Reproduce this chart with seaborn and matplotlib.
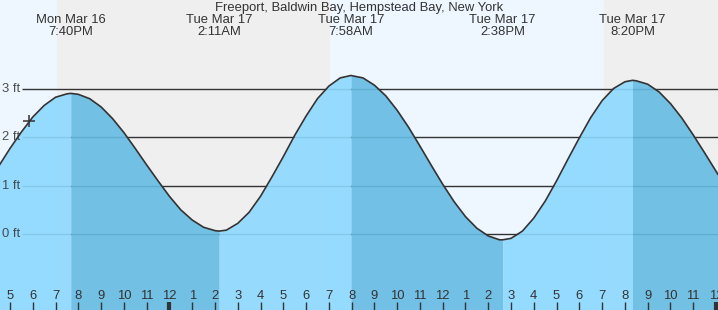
import matplotlib
matplotlib.use("Agg")
import matplotlib.pyplot as plt
import seaborn as sns
import pandas as pd

# ---------------- data ----------------
title = "Freeport, Baldwin Bay, Hempstead Bay, New York"

# hours since Mon Mar 16 00:00
ext_time = [19.667, 26.183, 31.967, 38.633, 44.333]
ext_height = [2.91, 0.06, 3.28, -0.12, 3.18]
ext_day = ["Mon Mar 16", "Tue Mar 17", "Tue Mar 17", "Tue Mar 17", "Tue Mar 17"]
ext_clock = ["7:40PM", "2:11AM", "7:58AM", "2:38PM", "8:20PM"]

# tide heights (ft)
tide_time = [16.0, 16.5, 17.0, 17.5, 18.0, 18.5, 19.0, 19.5, 19.667,
             20.0, 20.5, 21.0, 21.5, 22.0, 22.5, 23.0, 23.5, 24.0, 24.5,
             25.0, 25.5, 26.0, 26.183,
             26.5, 27.0, 27.5, 28.0, 28.5, 29.0, 29.5, 30.0, 30.5, 31.0,
             31.5, 31.967,
             32.5, 33.0, 33.5, 34.0, 34.5, 35.0, 35.5, 36.0, 36.5, 37.0,
             37.5, 38.0, 38.5, 38.633,
             39.0, 39.5, 40.0, 40.5, 41.0, 41.5, 42.0, 42.5, 43.0, 43.5,
             44.0, 44.333,
             44.5, 45.0, 45.5, 46.0, 46.5, 47.0, 47.5, 48.0, 48.5]
tide_height = [1.03, 1.40, 1.77, 2.11, 2.42, 2.66, 2.83, 2.90, 2.91,
               2.89, 2.80, 2.63, 2.39, 2.10, 1.77, 1.43, 1.10, 0.78, 0.50,
               0.29, 0.14, 0.07, 0.06,
               0.08, 0.22, 0.45, 0.78, 1.18, 1.60, 2.04, 2.44, 2.80, 3.06,
               3.23, 3.28,
               3.23, 3.08, 2.86, 2.56, 2.21, 1.82, 1.42, 1.03, 0.67, 0.36,
               0.12, -0.04, -0.12, -0.12,
               -0.09, 0.06, 0.33, 0.68, 1.10, 1.55, 1.99, 2.41, 2.76, 3.01,
               3.15, 3.18,
               3.17, 3.10, 2.94, 2.70, 2.40, 2.05, 1.68, 1.30, 0.94]

# night periods (sunset, sunrise) in hours
night_start = [19.07, 43.08]
night_end = [31.05, 60.0]

# current-time marker
now_time = 17.85
now_height = 2.33

grid_ft = [0, 1, 2, 3]
grid_labels = ["0 ft", "1 ft", "2 ft", "3 ft"]

tick_hours = list(range(17, 49))
tick_labels = [str((h - 1) % 12 + 1) for h in tick_hours]

# ---------------- styling ----------------
sns.set_style("white")
plt.rcParams["font.family"] = ["Liberation Sans", "DejaVu Sans"]

DAY_BG = "#EEF6FF"
NIGHT_BG = "#EFEFEF"
RISE = "#8CD9FF"
FALL = "#65BBE3"
INK = "#333333"
FS = 9.4

df = pd.DataFrame({"time": tide_time, "height": tide_height})

fig = plt.figure(figsize=(7.18, 3.10), dpi=100)
ax = fig.add_axes([0, 0, 1, 1])
XMIN, XMAX = 16.561, 48.088
YMIN, YMAX = -1.572, 4.842
ax.set_xlim(XMIN, XMAX)
ax.set_ylim(YMIN, YMAX)
ax.set_facecolor(DAY_BG)
ax.set_axisbelow(False)
for s in ax.spines.values():
    s.set_visible(False)

for a, b in zip(night_start, night_end):
    ax.axvspan(a, b, color=NIGHT_BG, zorder=0, lw=0)

# horizontal grid lines (below the water) and labels
ax.hlines(grid_ft, 22 / 718, 1, transform=ax.get_yaxis_transform(),
          color=INK, lw=1.0, zorder=0.5)
for v, lab in zip(grid_ft, grid_labels):
    ax.text(20 / 718, v, lab, transform=ax.get_yaxis_transform(),
            ha="right", va="center", fontsize=FS, color=INK, alpha=0.85,
            zorder=2)

# water fill: rising = light, falling = dark
bounds = [XMIN - 1] + ext_time + [XMAX + 1]
for i in range(len(bounds) - 1):
    a, b = bounds[i], bounds[i + 1]
    seg = df[(df.time >= a) & (df.time <= b)]
    rising = (i % 2 == 0)
    ax.fill_between(seg.time, seg.height, YMIN - 1,
                    color=RISE if rising else FALL, alpha=0.9, lw=0, zorder=1)

sns.lineplot(data=df, x="time", y="height", ax=ax, color=INK, lw=1.2,
             zorder=3, sort=True, estimator=None)
ax.plot([now_time], [now_height], marker="+", ms=8, mew=1.1, color=INK, zorder=4)

# labels at top
ax.text(0.5, 1 - 8 / 310, title, transform=ax.transAxes, ha="center",
        va="center", fontsize=FS, color=INK)
for t, d, c in zip(ext_time, ext_day, ext_clock):
    ax.text(t, 1 - 20 / 310, d, transform=ax.get_xaxis_transform(),
            ha="center", va="center", fontsize=FS, color=INK)
    ax.text(t, 1 - 32 / 310, c, transform=ax.get_xaxis_transform(),
            ha="center", va="center", fontsize=FS, color=INK)

# bottom hour ticks
ax.set_xticks(tick_hours)
ax.set_xticklabels(tick_labels)
ax.set_yticks([])
ax.tick_params(axis="x", direction="in", length=5.8, width=1.0, color=INK,
               labelcolor=INK, labelsize=FS, pad=-14.3, bottom=True)
for h, tk in zip(tick_hours, ax.xaxis.get_major_ticks()):
    if h % 24 == 0:
        tk.tick1line.set_markeredgewidth(3.0)
ax.set_xlabel("")
ax.set_ylabel("")

fig.savefig("out.png", dpi=100)
